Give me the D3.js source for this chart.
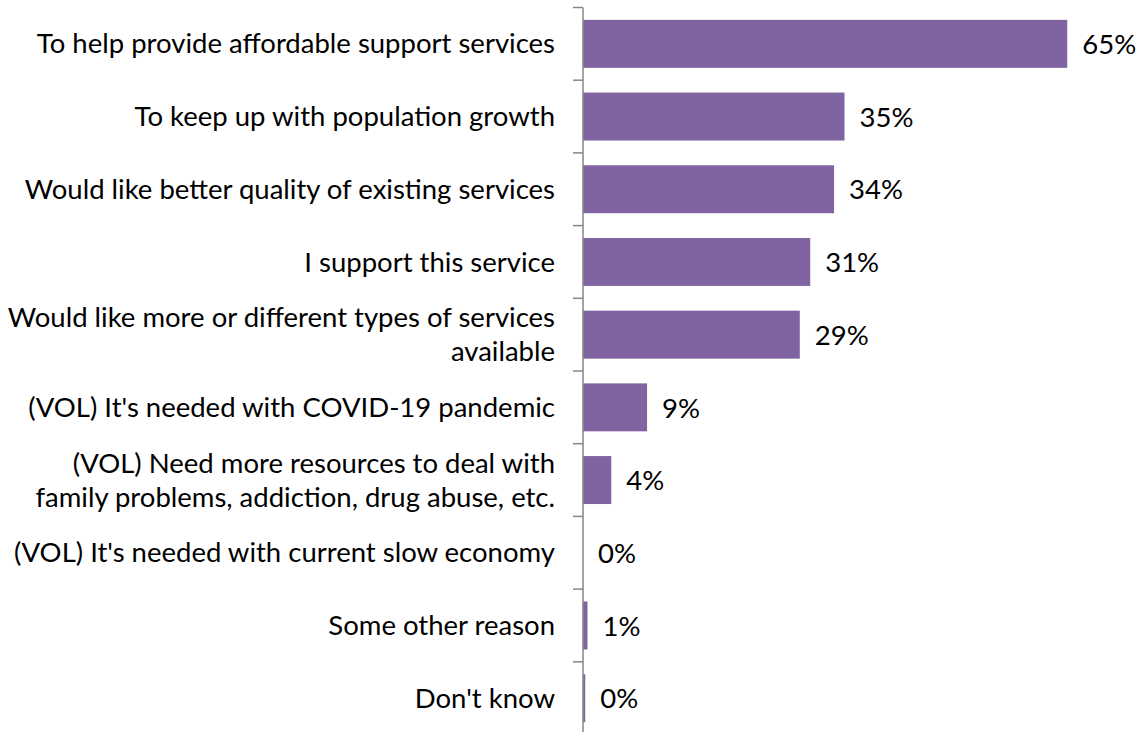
<!DOCTYPE html>
<html>
<head>
<meta charset="utf-8">
<script src="https://cdn.jsdelivr.net/npm/d3@7"></script>
<style>
  html, body { margin: 0; padding: 0; background: #fff; }
  svg { display: block; }
  text { font-family: Lato, "Open Sans", sans-serif; fill: #000; }
</style>
</head>
<body>
<svg id="chart" width="1146" height="732"></svg>
<script>
const categories = [
  "To help provide affordable support services",
  "To keep up with population growth",
  "Would like better quality of existing services",
  "I support this service",
  "Would like more or different types of services|available",
  "(VOL) It's needed with COVID-19 pandemic",
  "(VOL) Need more resources to deal with|family problems, addiction, drug abuse, etc.",
  "(VOL) It's needed with current slow economy",
  "Some other reason",
  "Don't know"
];
const values = [65.0, 35.1, 33.7, 30.5, 29.1, 8.6, 3.8, 0.0, 0.6, 0.3];
const valueLabels = ["65%", "35%", "34%", "31%", "29%", "9%", "4%", "0%", "1%", "0%"];

const svg = d3.select("#chart");
const axisX = 583;
const fontSize = 27.5;

const x = d3.scaleLinear().domain([0, 70]).range([axisX, axisX + 70 * 7.45]);
const y = d3.scaleBand().domain(categories).range([7.5, 734.5]).paddingInner(0.34).paddingOuter(0.17);

// bars
svg.append("g").selectAll("rect").data(categories).join("rect")
  .attr("x", axisX)
  .attr("y", d => y(d))
  .attr("width", (d, i) => Math.max(0, x(values[i]) - x(0)))
  .attr("height", y.bandwidth())
  .attr("fill", "#8064A2");

// axis line and ticks at band boundaries
const axisG = svg.append("g");
const boundaries = categories.map(d => y(d) - y.step() * y.paddingInner() / 2);
axisG.append("line")
  .attr("x1", axisX).attr("x2", axisX)
  .attr("y1", boundaries[0]).attr("y2", 736)
  .attr("stroke", "#868686").attr("stroke-width", 1.5);
axisG.selectAll("line.tick").data(boundaries).join("line")
  .attr("class", "tick")
  .attr("x1", axisX - 10).attr("x2", axisX)
  .attr("y1", d => d).attr("y2", d => d)
  .attr("stroke", "#868686").attr("stroke-width", 1.5);

// category labels
const lineH = 34;
svg.append("g").selectAll("text").data(categories).join("text")
  .attr("text-anchor", "end")
  .attr("font-size", fontSize)
  .each(function(d) {
    const lines = d.split("|");
    const cy = y(d) + y.bandwidth() / 2;
    const t = d3.select(this);
    lines.forEach((ln, k) => {
      t.append("tspan")
        .attr("x", axisX - 28)
        .attr("y", cy + (k - (lines.length - 1) / 2) * lineH)
        .attr("dy", "0.35em")
        .text(ln);
    });
  });

// value labels
svg.append("g").selectAll("text").data(categories).join("text")
  .attr("x", (d, i) => x(values[i]) + 15)
  .attr("y", d => y(d) + y.bandwidth() / 2)
  .attr("dy", "0.37em")
  .attr("font-size", fontSize)
  .text((d, i) => valueLabels[i]);
</script>
</body>
</html>
